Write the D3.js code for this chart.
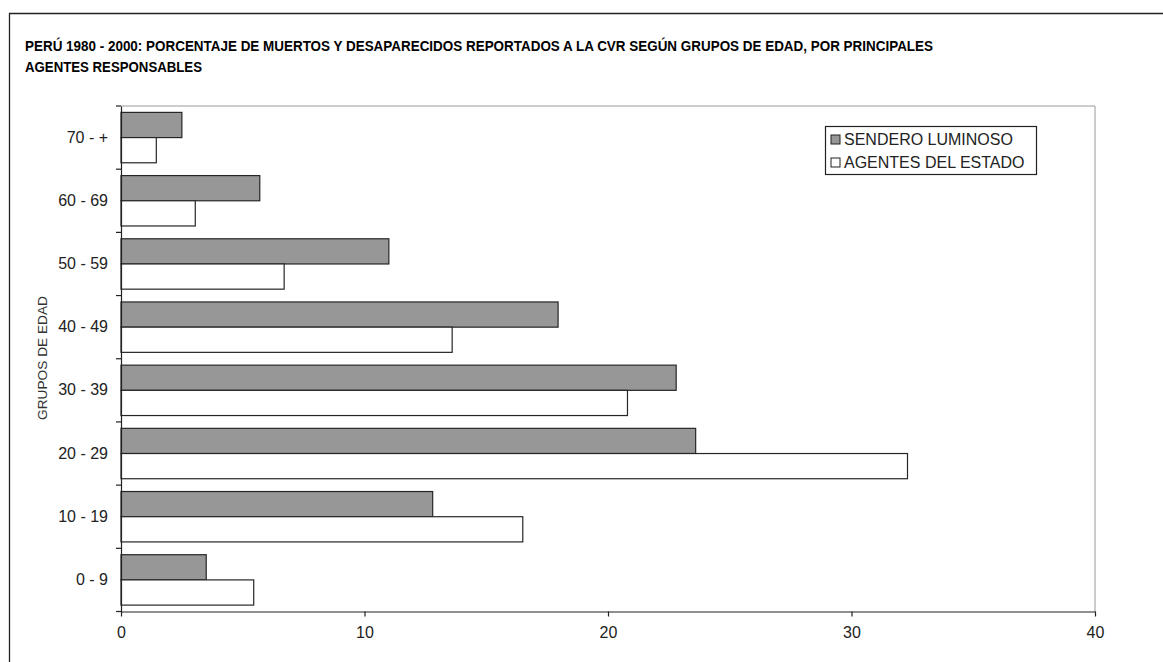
<!DOCTYPE html>
<html><head><meta charset="utf-8">
<script src="https://cdn.jsdelivr.net/npm/d3@7"></script>
<style>
body{margin:0;background:#fff;}
svg{display:block;font-family:"Liberation Sans",Arial,sans-serif;}
</style></head>
<body>
<svg id="chart" width="1163" height="662"></svg>
<script>
const categories = ["70 - +","60 - 69","50 - 59","40 - 49","30 - 39","20 - 29","10 - 19","0 - 9"];
const seriesNames = ["SENDERO LUMINOSO","AGENTES DEL ESTADO"];
const senderoValues = [2.5, 5.7, 11.0, 17.95, 22.8, 23.6, 12.8, 3.5];
const estadoValues = [1.45, 3.05, 6.7, 13.6, 20.8, 32.3, 16.5, 5.45];
const xTicks = [0, 10, 20, 30, 40];
const titleLines = ["PERÚ 1980 - 2000: PORCENTAJE DE MUERTOS Y DESAPARECIDOS REPORTADOS A LA CVR SEGÚN GRUPOS DE EDAD, POR PRINCIPALES", "AGENTES RESPONSABLES"];
const yAxisTitle = "GRUPOS DE EDAD";
const fills = ["#979797", "#ffffff"];

const svg = d3.select("#chart");
const m = {left:121, right:1095, top:106, bottom:611.5};

// outer frame
svg.append("line").attr("x1",9).attr("x2",1163).attr("y1",13.5).attr("y2",13.5).attr("stroke","#222").attr("stroke-width",1.3);
svg.append("line").attr("x1",9.5).attr("x2",9.5).attr("y1",13).attr("y2",662).attr("stroke","#222").attr("stroke-width",1.3);

// title
const tLens = [908, 177];
titleLines.forEach((t,i)=>{
  svg.append("text").attr("x",25).attr("y",50.5 + i*21.5)
    .attr("font-size",14).attr("font-weight","bold").attr("fill","#000")
    .attr("font-family","'Liberation Sans Narrow','Arial Narrow','Liberation Sans',Arial,sans-serif")
    .attr("textLength",tLens[i]).attr("lengthAdjust","spacingAndGlyphs")
    .text(t);
});

const x = d3.scaleLinear().domain([0,40]).range([m.left,m.right]);
const y = d3.scaleBand().domain(categories).range([m.top,m.bottom]).padding(0);
const ySub = d3.scaleBand().domain(seriesNames).range([0,y.bandwidth()]).paddingInner(0).paddingOuter(0.254);

// plot border (top/right gray)
svg.append("line").attr("x1",m.left).attr("x2",m.right).attr("y1",m.top).attr("y2",m.top).attr("stroke","#9a9a9a");
svg.append("line").attr("x1",m.right).attr("x2",m.right).attr("y1",m.top).attr("y2",m.bottom).attr("stroke","#9a9a9a");

// bars
const data = categories.map((c,i)=>({cat:c, vals:[senderoValues[i], estadoValues[i]]}));
const g = svg.append("g");
data.forEach(d=>{
  d.vals.forEach((v,j)=>{
    g.append("rect")
      .attr("x",x(0)).attr("y",y(d.cat)+ySub(seriesNames[j]))
      .attr("width",x(v)-x(0)).attr("height",ySub.bandwidth())
      .attr("fill",fills[j]).attr("stroke","#262626").attr("stroke-width",1.2);
  });
});

// y axis
const yAx = svg.append("g").attr("transform",`translate(${m.left},0)`)
  .call(d3.axisLeft(y).tickSize(0).tickPadding(13));
yAx.select(".domain").attr("stroke","#222").attr("stroke-width",1.2);
yAx.selectAll("text").attr("font-size",16).attr("fill","#222").attr("font-family","Liberation Sans, Arial, sans-serif");
// boundary ticks
const bounds = categories.map(c=>y(c)).concat([y(categories[categories.length-1])+y.bandwidth()]);
svg.append("g").selectAll("line").data(bounds).join("line")
  .attr("x1",m.left-5).attr("x2",m.left).attr("y1",d=>d).attr("y2",d=>d)
  .attr("stroke","#222").attr("stroke-width",1.2);

// x axis
const xAx = svg.append("g").attr("transform",`translate(0,${m.bottom})`)
  .call(d3.axisBottom(x).tickValues(xTicks).tickSize(5).tickSizeOuter(0).tickPadding(10));
xAx.select(".domain").attr("stroke","#222").attr("stroke-width",1.2);
xAx.selectAll(".tick line").attr("stroke","#222").attr("stroke-width",1.2);
xAx.selectAll("text").attr("font-size",16).attr("fill","#222").attr("font-family","Liberation Sans, Arial, sans-serif");

// y axis title
svg.append("text").attr("transform","translate(47,358) rotate(-90)")
  .attr("text-anchor","middle").attr("font-size",13.7).attr("fill","#333").text(yAxisTitle);

// legend
const lg = svg.append("g");
lg.append("rect").attr("x",825.5).attr("y",126.5).attr("width",211).attr("height",48)
  .attr("fill","#fff").attr("stroke","#222").attr("stroke-width",1.2);
seriesNames.forEach((s,i)=>{
  const cy = 139.5 + i*23;
  lg.append("rect").attr("x",831).attr("y",cy-4.5).attr("width",9).attr("height",9)
    .attr("fill",fills[i]).attr("stroke","#222").attr("stroke-width",1);
  lg.append("text").attr("x",844).attr("y",cy).attr("dy","0.35em")
    .attr("font-size",16).attr("fill","#222").text(s);
});
</script>
</body></html>
